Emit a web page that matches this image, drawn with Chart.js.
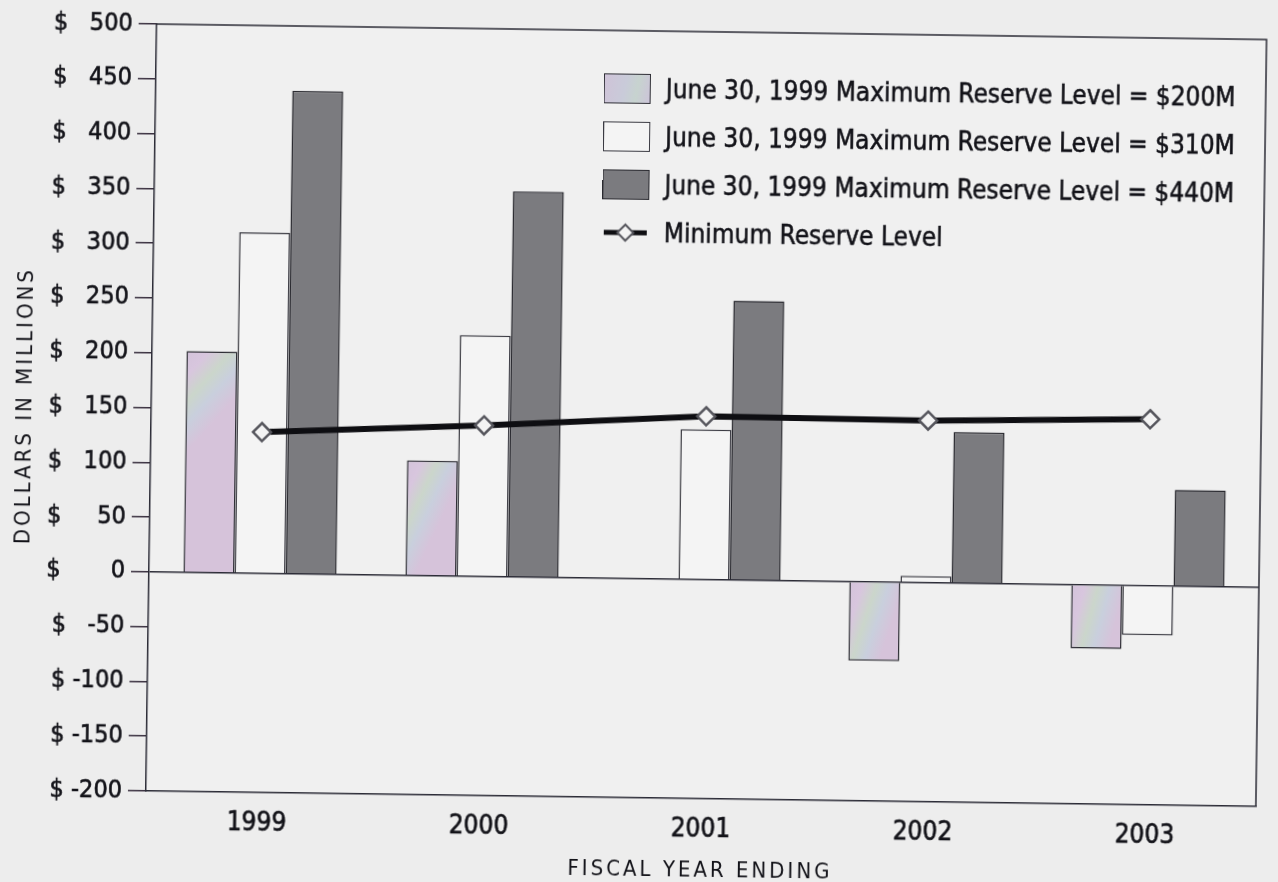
<!DOCTYPE html>
<html>
<head>
<meta charset="utf-8">
<script src="https://cdn.jsdelivr.net/npm/chart.js@4.4.1/dist/chart.umd.min.js"></script>
<style>
  html, body { margin: 0; padding: 0; background: #ededed; overflow: hidden; width: 1278px; height: 882px; }
  #stage { position: absolute; left: 0; top: 0; width: 1278px; height: 882px;
           transform-origin: 149px 572px; transform: rotate(0.8deg); }
  #chart { position: absolute; left: 0; top: 0; }
  #legend { position: absolute; left: 597px; top: 58px;
            font-family: "Liberation Sans Narrow", "DejaVu Sans Condensed", "Arial Narrow", sans-serif;
            font-size: 26px; color: #121218; -webkit-text-stroke: 0.5px #121218; }
  .item { display: flex; align-items: center; height: 48px; white-space: nowrap; }
  .swatch { width: 47px; height: 30px; box-sizing: border-box; border: 1.5px solid #333; margin-right: 15px; flex: none; }
  .key { width: 47px; height: 30px; margin-right: 15px; flex: none; }
</style>
</head>
<body>
<div id="stage">
  <canvas id="chart" width="1278" height="882"></canvas>
  <div id="legend"></div>
</div>
<script>
// Fiscal years on the category axis
const years = ['1999', '2000', '2001', '2002', '2003'];

// Projected reserve balances ($ millions) for each June 30, 1999 maximum reserve scenario
const reserve200M = [202, 105, 0, -72, -58];
const reserve310M = [311, 220, 137, 6, -45];
const reserve440M = [441, 352, 255, 138, 88];

// Minimum reserve level ($ millions)
const minimumReserve = [129, 138, 149, 148, 152];

// Value axis range and step
const yMin = -200;
const yMax = 500;
const yStep = 50;

const seriesLabels = [
  'June 30, 1999 Maximum Reserve Level = $200M',
  'June 30, 1999 Maximum Reserve Level = $310M',
  'June 30, 1999 Maximum Reserve Level = $440M',
  'Minimum Reserve Level'
];

const FONT = '"Liberation Sans Narrow", "DejaVu Sans Condensed", "Arial Narrow", sans-serif';
const INK = '#121218';
const CAT_PCT = 0.69;

// Iridescent fill for the $200M bars, spread across each bar's own box
function pearlFill(c) {
  const chart = c.chart;
  const xs = chart.scales && chart.scales.x, ys = chart.scales && chart.scales.y;
  const flat = '#d2cadc';
  if (c.type !== 'data' || !xs || !ys) return flat;
  const v = c.raw || 0;
  const cx = xs.getPixelForValue(c.dataIndex);
  const band = (xs.width / years.length) * CAT_PCT;
  const left = cx - band / 2, right = left + band / 3;
  const top = ys.getPixelForValue(Math.max(v, 0));
  const bot = ys.getPixelForValue(Math.min(v, 0)) + 1;
  if (![left, right, top, bot].every(Number.isFinite)) return flat;
  const g = chart.ctx.createLinearGradient(left, top, right, top + (bot - top) * 0.2);
  g.addColorStop(0, '#d3c3da');
  g.addColorStop(0.25, '#d8c6de');
  g.addColorStop(0.5, '#cbd6cb');
  g.addColorStop(0.72, '#c9cfdd');
  g.addColorStop(1, '#d6c3da');
  return g;
}

// Chart-area fill plus the top and right frame lines
const framePlugin = {
  id: 'frame',
  beforeDraw(chart) {
    const { ctx, chartArea: a } = chart;
    ctx.save();
    ctx.fillStyle = '#f0f0f0';
    ctx.fillRect(a.left, a.top, a.right - a.left, a.bottom - a.top);
    ctx.restore();
  },
  afterDatasetsDraw(chart) {
    const { ctx, chartArea: a } = chart;
    ctx.save();
    ctx.strokeStyle = '#2b2b36';
    ctx.lineWidth = 1.5;
    ctx.beginPath();
    ctx.moveTo(a.left, a.top);
    ctx.lineTo(a.right, a.top);
    ctx.lineTo(a.right, a.bottom);
    ctx.stroke();
    ctx.restore();
  }
};

// Letter-spaced axis titles
const spacedTitles = {
  id: 'spacedTitles',
  afterLayout(chart) {
    Object.values(chart.scales).forEach(s => {
      if (s._spacedTitle) return;
      const orig = s.drawTitle;
      s.drawTitle = function (...args) {
        this.ctx.save();
        this.ctx.letterSpacing = '3px';
        orig.apply(this, args);
        this.ctx.restore();
      };
      s._spacedTitle = true;
    });
  }
};

function dollarTick(value) {
  let s = String(value);
  while (s.length < 4) s = '\u2007' + s;
  return '$ ' + s;
}

const chart = new Chart(document.getElementById('chart'), {
  data: {
    labels: years,
    datasets: [
      {
        type: 'line', label: seriesLabels[3], data: minimumReserve, order: 0,
        borderColor: '#0e0e12', borderWidth: 6, tension: 0,
        pointStyle: 'rectRot', pointRadius: 9, pointHoverRadius: 9,
        pointBackgroundColor: '#f3f3f3', pointBorderColor: '#55555c', pointBorderWidth: 2.5
      },
      {
        type: 'bar', label: seriesLabels[0], data: reserve200M, order: 1,
        backgroundColor: pearlFill, borderColor: '#2e2e35', borderWidth: 1.5
      },
      {
        type: 'bar', label: seriesLabels[1], data: reserve310M, order: 1,
        backgroundColor: '#f4f4f4', borderColor: '#3a3a42', borderWidth: 1.5
      },
      {
        type: 'bar', label: seriesLabels[2], data: reserve440M, order: 1,
        backgroundColor: '#7b7b7f', borderColor: '#2a2a30', borderWidth: 1.5
      }
    ]
  },
  options: {
    responsive: false,
    animation: false,
    devicePixelRatio: 1,
    layout: { padding: { top: 24, right: 19, left: 0, bottom: 0 } },
    datasets: { bar: { categoryPercentage: CAT_PCT, barPercentage: 1.0 } },
    plugins: { legend: { display: false }, tooltip: { enabled: false } },
    scales: {
      x: {
        type: 'category',
        offset: true,
        grid: { display: true, drawOnChartArea: false, drawTicks: false, color: 'rgba(0,0,0,0)' },
        border: { display: true, color: '#2b2b36', width: 1.5 },
        ticks: {
          padding: 16, color: INK, font: { family: FONT, size: 26 },
          textStrokeColor: INK, textStrokeWidth: 0.6
        },
        title: {
          display: true, text: 'FISCAL YEAR ENDING', color: INK,
          font: { family: FONT, size: 22 }, padding: { top: 0, bottom: 6 }
        },
        afterFit(s) { s.height = 91; }
      },
      y: {
        type: 'linear',
        min: yMin, max: yMax,
        ticks: {
          stepSize: yStep, padding: 6, color: INK, font: { family: FONT, size: 25 },
          textStrokeColor: INK, textStrokeWidth: 0.6, callback: dollarTick
        },
        grid: {
          drawOnChartArea: true,
          color: c => (c.tick && c.tick.value === 0 ? '#2b2b36' : 'rgba(0,0,0,0)'),
          lineWidth: 1.5,
          tickColor: '#3a3140', tickLength: 18, tickWidth: 1.5
        },
        border: { display: true, color: '#2b2b36', width: 1.5 },
        title: {
          display: true, text: 'DOLLARS IN MILLIONS', color: INK,
          font: { family: FONT, size: 22 }, padding: { top: 10, bottom: 0 }
        },
        afterFit(s) { s.width = 149; }
      }
    }
  },
  plugins: [framePlugin, spacedTitles]
});

// Legend built from the chart's own datasets
(function buildLegend() {
  const host = document.getElementById('legend');
  const barSets = chart.data.datasets.filter(d => d.type === 'bar');
  const lineSet = chart.data.datasets.find(d => d.type === 'line');
  const fills = {
    [seriesLabels[0]]: 'linear-gradient(100deg, #cfc3d8 0%, #c9cbd9 45%, #c7d3cf 70%, #ccc4d9 100%)'
  };
  barSets.forEach(ds => {
    const row = document.createElement('div');
    row.className = 'item';
    const sw = document.createElement('span');
    sw.className = 'swatch';
    sw.style.background = fills[ds.label] || ds.backgroundColor;
    sw.style.borderColor = ds.borderColor;
    row.appendChild(sw);
    row.appendChild(document.createTextNode(ds.label));
    host.appendChild(row);
  });
  const row = document.createElement('div');
  row.className = 'item';
  row.innerHTML = '<svg class="key" viewBox="0 0 47 30"><line x1="2" y1="15" x2="45" y2="15" stroke="' +
    lineSet.borderColor + '" stroke-width="5"/><path d="M23.5 7 L31.5 15 L23.5 23 L15.5 15 Z" fill="' +
    lineSet.pointBackgroundColor + '" stroke="' + lineSet.pointBorderColor + '" stroke-width="2"/></svg>';
  row.appendChild(document.createTextNode(lineSet.label));
  host.appendChild(row);
})();
</script>
</body>
</html>
